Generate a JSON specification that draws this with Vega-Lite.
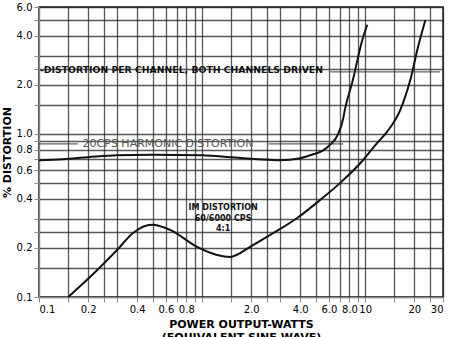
{
  "$schema": "https://vega.github.io/schema/vega-lite/v6.json",
  "width": 404,
  "height": 290,
  "autosize": {"type": "none"},
  "padding": {"left": 39, "top": 7, "right": 10, "bottom": 40},
  "background": "white",
  "config": {"view": {"stroke": "#222", "strokeWidth": 1.5}, "font": "DejaVu Sans"},
  "datasets": {
    "curves": [
      {"x": 0.1, "y": 0.69, "s": "harmonic"},
      {"x": 0.14, "y": 0.70, "s": "harmonic"},
      {"x": 0.2, "y": 0.72, "s": "harmonic"},
      {"x": 0.3, "y": 0.74, "s": "harmonic"},
      {"x": 0.5, "y": 0.745, "s": "harmonic"},
      {"x": 1.0, "y": 0.74, "s": "harmonic"},
      {"x": 1.5, "y": 0.72, "s": "harmonic"},
      {"x": 2.2, "y": 0.70, "s": "harmonic"},
      {"x": 3.0, "y": 0.69, "s": "harmonic"},
      {"x": 4.0, "y": 0.71, "s": "harmonic"},
      {"x": 4.8, "y": 0.75, "s": "harmonic"},
      {"x": 5.5, "y": 0.79, "s": "harmonic"},
      {"x": 6.1, "y": 0.86, "s": "harmonic"},
      {"x": 6.8, "y": 0.99, "s": "harmonic"},
      {"x": 7.3, "y": 1.22, "s": "harmonic"},
      {"x": 7.5, "y": 1.40, "s": "harmonic"},
      {"x": 8.4, "y": 2.14, "s": "harmonic"},
      {"x": 9.6, "y": 3.77, "s": "harmonic"},
      {"x": 10.3, "y": 4.67, "s": "harmonic"},
      {"x": 0.151, "y": 0.100, "s": "im"},
      {"x": 0.227, "y": 0.146, "s": "im"},
      {"x": 0.301, "y": 0.194, "s": "im"},
      {"x": 0.377, "y": 0.247, "s": "im"},
      {"x": 0.494, "y": 0.277, "s": "im"},
      {"x": 0.636, "y": 0.258, "s": "im"},
      {"x": 0.932, "y": 0.203, "s": "im"},
      {"x": 1.236, "y": 0.181, "s": "im"},
      {"x": 1.485, "y": 0.176, "s": "im"},
      {"x": 1.97, "y": 0.203, "s": "im"},
      {"x": 2.61, "y": 0.240, "s": "im"},
      {"x": 3.83, "y": 0.305, "s": "im"},
      {"x": 5.30, "y": 0.394, "s": "im"},
      {"x": 7.03, "y": 0.501, "s": "im"},
      {"x": 9.72, "y": 0.692, "s": "im"},
      {"x": 11.85, "y": 0.881, "s": "im"},
      {"x": 13.6, "y": 1.03, "s": "im"},
      {"x": 16.4, "y": 1.40, "s": "im"},
      {"x": 18.9, "y": 2.14, "s": "im"},
      {"x": 21.1, "y": 3.42, "s": "im"},
      {"x": 23.4, "y": 5.0, "s": "im"}
    ],
    "ann": [
      {"x": 6.1, "y": 2.40, "g": "a"},
      {"x": 28.8, "y": 2.40, "g": "a"},
      {"x": 0.1, "y": 0.868, "g": "b"},
      {"x": 0.173, "y": 0.868, "g": "b"},
      {"x": 2.55, "y": 0.868, "g": "c"},
      {"x": 7.33, "y": 0.868, "g": "c"}
    ],
    "labels": [
      {"x": 0.1014, "y": 2.45, "t": "-DISTORTION PER CHANNEL, BOTH CHANNELS DRIVEN", "k": "main"},
      {"x": 0.185, "y": 0.868, "t": "20CPS HARMONIC DISTORTION", "k": "harm"},
      {"x": 1.345, "y": 0.352, "t": "IM DISTORTION", "k": "im"},
      {"x": 1.345, "y": 0.301, "t": "60/6000 CPS", "k": "im"},
      {"x": 1.345, "y": 0.261, "t": "4:1", "k": "im"}
    ]
  },
  "encoding": {
    "x": {
      "field": "x",
      "type": "quantitative",
      "scale": {"type": "log", "domain": [0.1, 30], "nice": false},
      "axis": {
        "values": [0.1, 0.15, 0.2, 0.25, 0.3, 0.4, 0.5, 0.6, 0.7, 0.8, 0.9, 1, 1.5, 2, 2.5, 3, 4, 5, 6, 7, 8, 9, 10, 15, 20, 25, 30],
        "labelExpr": "indexof([0.1,0.2,0.4,0.6,0.8,1,2,4,6,8,10,20,30], datum.value) >= 0 ? (datum.value >= 10 ? format(datum.value, 'd') : format(datum.value, '.1f')) : ''",
        "grid": true,
        "gridColor": "#222",
        "gridOpacity": 0.75,
        "gridWidth": 1.3,
        "title": ["POWER OUTPUT-WATTS", "(EQUIVALENT SINE-WAVE)"]
      }
    },
    "y": {
      "field": "y",
      "type": "quantitative",
      "scale": {"type": "log", "domain": [0.1, 6], "nice": false},
      "axis": {
        "values": [0.1, 0.15, 0.2, 0.25, 0.3, 0.4, 0.5, 0.6, 0.7, 0.8, 0.9, 1, 1.5, 2, 2.5, 3, 4, 5, 6],
        "labelExpr": "indexof([0.1,0.2,0.4,0.6,0.8,1,2,4,6], datum.value) >= 0 ? format(datum.value, '.1f') : ''",
        "grid": true,
        "gridColor": "#222",
        "gridOpacity": 0.75,
        "gridWidth": 1.3,
        "title": "% DISTORTION"
      }
    }
  },
  "layer": [
    {
      "data": {"name": "curves"},
      "mark": {"type": "line", "color": "#111", "strokeWidth": 2, "interpolate": "monotone"},
      "encoding": {"detail": {"field": "s", "type": "nominal"}}
    },
    {
      "data": {"name": "ann"},
      "mark": {"type": "line", "color": "#333", "strokeWidth": 1.3, "opacity": 0.75},
      "encoding": {"detail": {"field": "g", "type": "nominal"}}
    },
    {
      "data": {"name": "labels"},
      "transform": [{"filter": "datum.k == 'main'"}],
      "mark": {"type": "text", "align": "left", "baseline": "middle", "font": "DejaVu Sans", "fontWeight": "bold", "fontSize": 9.3, "color": "#111"},
      "encoding": {"text": {"field": "t"}}
    },
    {
      "data": {"name": "labels"},
      "transform": [{"filter": "datum.k == 'harm'"}],
      "mark": {"type": "text", "align": "left", "baseline": "middle", "font": "DejaVu Sans", "fontSize": 11, "color": "#555"},
      "encoding": {"text": {"field": "t"}}
    },
    {
      "data": {"name": "labels"},
      "transform": [{"filter": "datum.k == 'im'"}],
      "mark": {"type": "text", "align": "center", "baseline": "middle", "font": "DejaVu Sans", "fontWeight": "bold", "fontSize": 8, "color": "#111"},
      "encoding": {"text": {"field": "t"}}
    }
  ]
}
